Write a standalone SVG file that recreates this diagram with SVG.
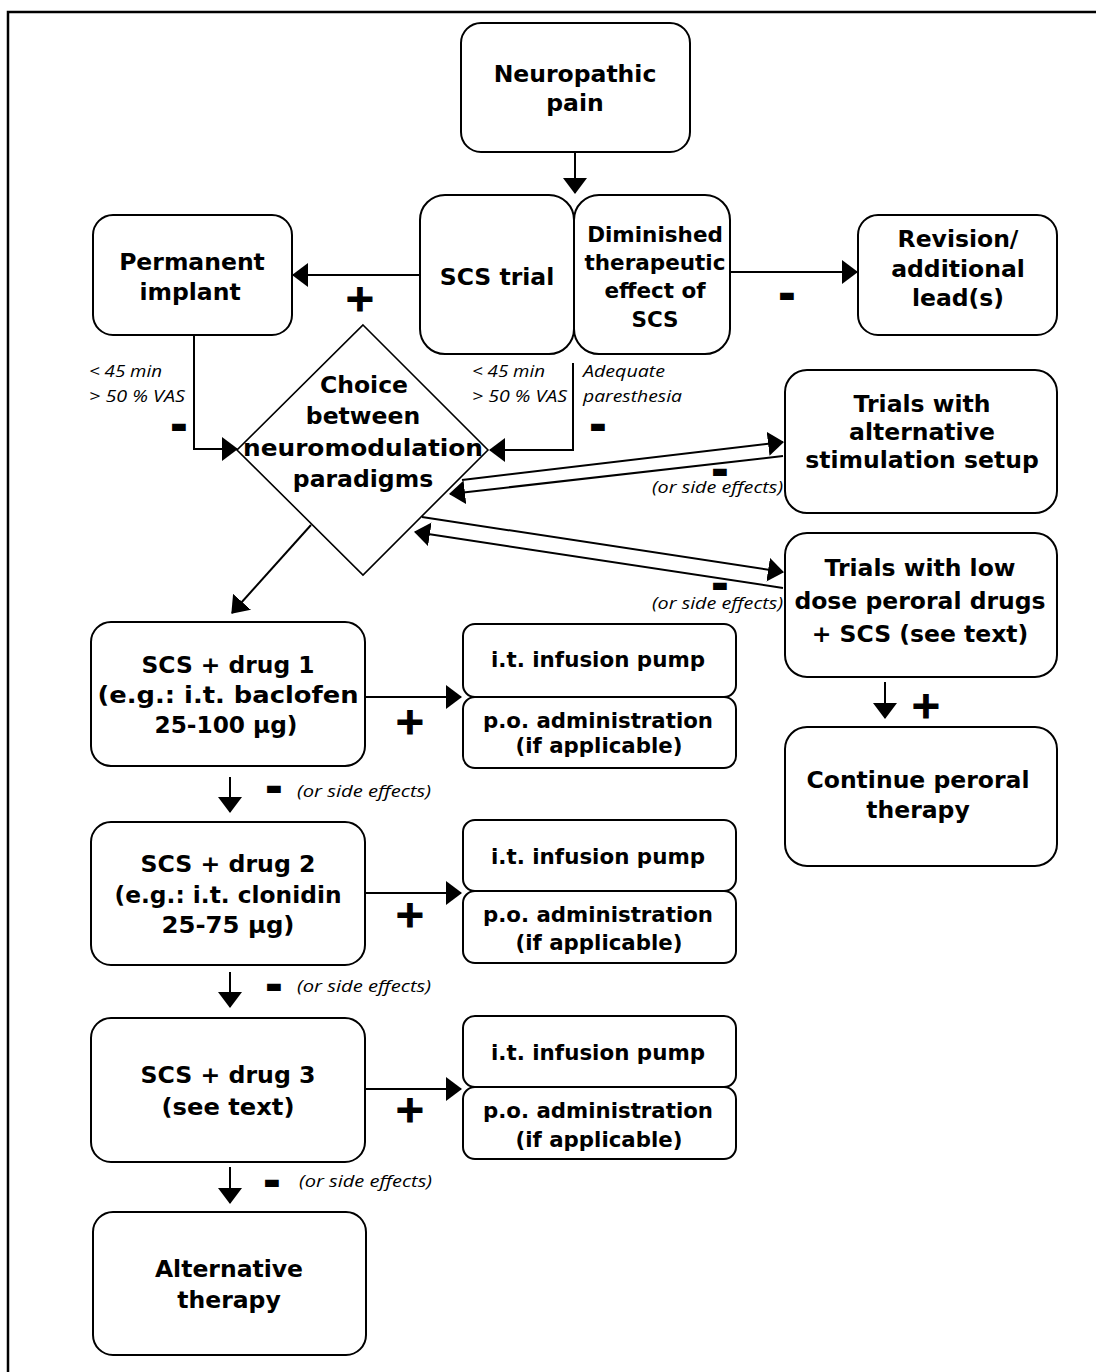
<svg xmlns="http://www.w3.org/2000/svg" width="1096" height="1372" viewBox="0 0 1096 1372">
<defs>
<marker id="ah" viewBox="0 0 16 24" refX="15" refY="12" markerWidth="16" markerHeight="24" markerUnits="userSpaceOnUse" orient="auto">
<path d="M0,0 L16,12 L0,24 z" fill="#000"/>
</marker>
<style>
.box{fill:#fff;stroke:#000;stroke-width:2}
.dia{fill:#fff;stroke:#000;stroke-width:1.6}
.t{font-family:"DejaVu Sans",Verdana,sans-serif;font-weight:bold;font-size:23.5px;text-anchor:middle;fill:#000}
.s{font-size:21.5px}
.i{font-family:"Open Sans","Liberation Sans",sans-serif;font-style:italic;font-size:17px;fill:#000}
.c{fill:none;stroke:#000;stroke-width:2;marker-end:url(#ah)}
.plus{font-family:"DejaVu Sans",sans-serif;font-weight:bold;font-size:38px;text-anchor:middle;fill:#000;stroke:#000;stroke-width:1.2}
.minus{font-family:"DejaVu Sans",sans-serif;font-weight:bold;font-size:38px;text-anchor:middle;fill:#000;stroke:#000;stroke-width:2}
.frame{fill:none;stroke:#000;stroke-width:2.5}
</style>
</defs>
<rect width="1096" height="1372" fill="#fff"/>
<path class="frame" d="M8,1372 V12 H1096"/>

<g id="connectors">
<line class="c" x1="575" y1="152" x2="575" y2="193"/>
<line class="c" x1="420" y1="275" x2="293" y2="275"/>
<line class="c" x1="730" y1="272" x2="857" y2="272"/>
<polyline class="c" points="194,335 194,449 237,449"/>
<polyline class="c" points="573,363 573,450 490,450"/>
<line class="c" x1="462" y1="480" x2="783" y2="442"/>
<line class="c" x1="783" y1="456" x2="450" y2="494"/>
<line class="c" x1="422" y1="517" x2="783" y2="572"/>
<line class="c" x1="783" y1="588" x2="415" y2="532"/>
<line class="c" x1="311" y1="525" x2="232" y2="613"/>
<line class="c" x1="365" y1="697" x2="461" y2="697"/>
<line class="c" x1="365" y1="893" x2="461" y2="893"/>
<line class="c" x1="365" y1="1089" x2="461" y2="1089"/>
<line class="c" x1="230" y1="777" x2="230" y2="812"/>
<line class="c" x1="230" y1="972" x2="230" y2="1007"/>
<line class="c" x1="230" y1="1167" x2="230" y2="1203"/>
<line class="c" x1="885" y1="682" x2="885" y2="718"/>
</g>

<g id="labels">
<text class="plus" x="360" y="311">+</text>
<text class="plus" x="410" y="734">+</text>
<text class="plus" x="410" y="927">+</text>
<text class="plus" x="410" y="1122">+</text>
<text class="plus" x="926" y="718">+</text>
<text class="minus" x="179" y="438">-</text>
<text class="minus" x="598" y="438">-</text>
<text class="minus" x="787" y="307">-</text>
<text class="minus" x="720" y="483">-</text>
<text class="minus" x="720" y="597">-</text>
<text class="minus" x="274" y="800">-</text>
<text class="minus" x="274" y="998">-</text>
<text class="minus" x="272" y="1194">-</text>
<text class="i" x="89" y="377" textLength="73" lengthAdjust="spacingAndGlyphs">&lt; 45 min</text>
<text class="i" x="89" y="402" textLength="96" lengthAdjust="spacingAndGlyphs">&gt; 50 % VAS</text>
<text class="i" x="472" y="377" textLength="73" lengthAdjust="spacingAndGlyphs">&lt; 45 min</text>
<text class="i" x="472" y="402" textLength="95" lengthAdjust="spacingAndGlyphs">&gt; 50 % VAS</text>
<text class="i" x="583" y="377" textLength="82" lengthAdjust="spacingAndGlyphs">Adequate</text>
<text class="i" x="583" y="402" textLength="99" lengthAdjust="spacingAndGlyphs">paresthesia</text>
<text class="i" x="652" y="493" textLength="131" lengthAdjust="spacingAndGlyphs">(or side effects)</text>
<text class="i" x="652" y="609" textLength="131" lengthAdjust="spacingAndGlyphs">(or side effects)</text>
<text class="i" x="297" y="797" textLength="134" lengthAdjust="spacingAndGlyphs">(or side effects)</text>
<text class="i" x="297" y="992" textLength="134" lengthAdjust="spacingAndGlyphs">(or side effects)</text>
<text class="i" x="299" y="1187" textLength="133" lengthAdjust="spacingAndGlyphs">(or side effects)</text>
</g>

<g id="neuropathic-pain">
<rect class="box" x="461" y="23" width="229" height="129" rx="20"/>
<text class="t" x="575" y="82">Neuropathic</text>
<text class="t" x="575" y="111">pain</text>
</g>
<g id="scs-trial">
<rect class="box" x="420" y="195" width="154" height="159" rx="25"/>
<text class="t" x="497" y="285">SCS trial</text>
</g>
<g id="diminished">
<rect class="box" x="574" y="195" width="156" height="159" rx="25"/>
<text class="t s" x="655" y="242">Diminished</text>
<text class="t s" x="655" y="270">therapeutic</text>
<text class="t s" x="655" y="298">effect of</text>
<text class="t s" x="655" y="327">SCS</text>
</g>
<g id="permanent-implant">
<rect class="box" x="93" y="215" width="199" height="120" rx="20"/>
<text class="t" x="192" y="270">Permanent</text>
<text class="t" x="190" y="300">implant</text>
</g>
<g id="revision">
<rect class="box" x="858" y="215" width="199" height="120" rx="20"/>
<text class="t" x="958" y="247">Revision/</text>
<text class="t" x="958" y="277">additional</text>
<text class="t" x="958" y="306">lead(s)</text>
</g>
<g id="choice">
<polygon class="dia" points="363,325 488,450 363,575 237,450"/>
<text class="t" x="364" y="393">Choice</text>
<text class="t" x="363" y="424">between</text>
<text class="t" x="363" y="456" textLength="240" lengthAdjust="spacingAndGlyphs">neuromodulation</text>
<text class="t" x="363" y="487">paradigms</text>
</g>
<g id="trials-alternative">
<rect class="box" x="785" y="370" width="272" height="143" rx="22"/>
<text class="t" x="922" y="412">Trials with</text>
<text class="t" x="922" y="440">alternative</text>
<text class="t" x="922" y="468">stimulation setup</text>
</g>
<g id="trials-low-dose">
<rect class="box" x="785" y="533" width="272" height="144" rx="22"/>
<text class="t" x="920" y="576">Trials with low</text>
<text class="t" x="920" y="609">dose peroral drugs</text>
<text class="t" x="920" y="642">+ SCS (see text)</text>
</g>
<g id="continue-peroral">
<rect class="box" x="785" y="727" width="272" height="139" rx="22"/>
<text class="t" x="918" y="788">Continue peroral</text>
<text class="t" x="918" y="818">therapy</text>
</g>
<g id="drug1">
<rect class="box" x="91" y="622" width="274" height="144" rx="20"/>
<text class="t" x="228" y="673" textLength="173" lengthAdjust="spacingAndGlyphs">SCS + drug 1</text>
<text class="t" x="228" y="703" textLength="261" lengthAdjust="spacingAndGlyphs">(e.g.: i.t. baclofen</text>
<text class="t" x="226" y="733" textLength="143" lengthAdjust="spacingAndGlyphs">25-100 μg)</text>
</g>
<g id="pump1">
<rect class="box" x="463" y="624" width="273" height="73" rx="12"/>
<text class="t s" x="598" y="667" textLength="214" lengthAdjust="spacingAndGlyphs">i.t. infusion pump</text>
</g>
<g id="po1">
<rect class="box" x="463" y="697" width="273" height="71" rx="12"/>
<text class="t s" x="598" y="728" textLength="230" lengthAdjust="spacingAndGlyphs">p.o. administration</text>
<text class="t s" x="599" y="753" textLength="167" lengthAdjust="spacingAndGlyphs">(if applicable)</text>
</g>
<g id="drug2">
<rect class="box" x="91" y="822" width="274" height="143" rx="20"/>
<text class="t" x="228" y="872" textLength="175" lengthAdjust="spacingAndGlyphs">SCS + drug 2</text>
<text class="t" x="228" y="903" textLength="227" lengthAdjust="spacingAndGlyphs">(e.g.: i.t. clonidin</text>
<text class="t" x="228" y="933" textLength="133" lengthAdjust="spacingAndGlyphs">25-75 μg)</text>
</g>
<g id="pump2">
<rect class="box" x="463" y="820" width="273" height="71" rx="12"/>
<text class="t s" x="598" y="864" textLength="214" lengthAdjust="spacingAndGlyphs">i.t. infusion pump</text>
</g>
<g id="po2">
<rect class="box" x="463" y="891" width="273" height="72" rx="12"/>
<text class="t s" x="598" y="922" textLength="230" lengthAdjust="spacingAndGlyphs">p.o. administration</text>
<text class="t s" x="599" y="950" textLength="167" lengthAdjust="spacingAndGlyphs">(if applicable)</text>
</g>
<g id="drug3">
<rect class="box" x="91" y="1018" width="274" height="144" rx="20"/>
<text class="t" x="228" y="1083" textLength="175" lengthAdjust="spacingAndGlyphs">SCS + drug 3</text>
<text class="t" x="228" y="1115" textLength="133" lengthAdjust="spacingAndGlyphs">(see text)</text>
</g>
<g id="pump3">
<rect class="box" x="463" y="1016" width="273" height="71" rx="12"/>
<text class="t s" x="598" y="1060" textLength="214" lengthAdjust="spacingAndGlyphs">i.t. infusion pump</text>
</g>
<g id="po3">
<rect class="box" x="463" y="1087" width="273" height="72" rx="12"/>
<text class="t s" x="598" y="1118" textLength="230" lengthAdjust="spacingAndGlyphs">p.o. administration</text>
<text class="t s" x="599" y="1147" textLength="167" lengthAdjust="spacingAndGlyphs">(if applicable)</text>
</g>
<g id="alternative-therapy">
<rect class="box" x="93" y="1212" width="273" height="143" rx="20"/>
<text class="t" x="229" y="1277">Alternative</text>
<text class="t" x="229" y="1308">therapy</text>
</g>
</svg>
